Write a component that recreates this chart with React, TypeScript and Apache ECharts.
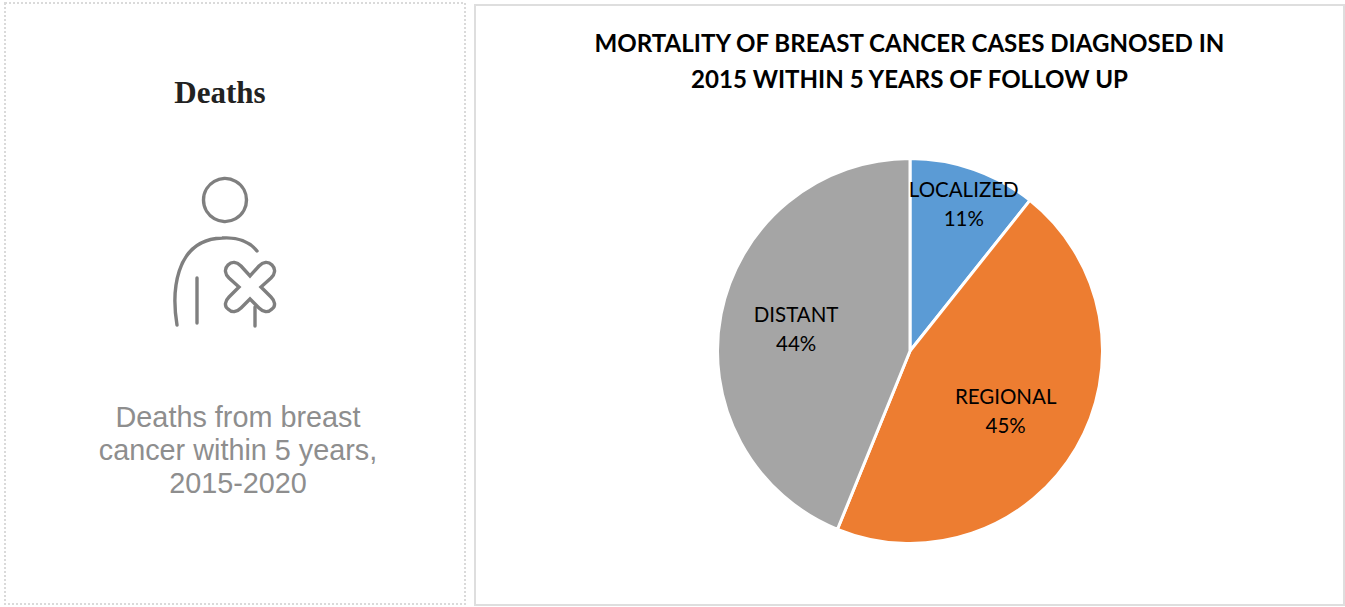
import React, { useEffect, useRef } from "react";
import * as echarts from "echarts";

const categories = ["LOCALIZED", "REGIONAL", "DISTANT"];
const shares = [10.7, 45.45, 43.85];
const colors = ["#5B9BD5", "#ED7D31", "#A5A5A5"];
const labelOffsets = [[21, -54], [10, 9], [-16.5, -3]];
const titleLines = "MORTALITY OF BREAST CANCER CASES DIAGNOSED IN\n2015 WITHIN 5 YEARS OF FOLLOW UP";
const sideHeading = "Deaths";
const sideCaption = ["Deaths from breast", "cancer within 5 years,", "2015-2020"];

const crossPath =
  "M229 266 C233 262 238 263 242 267 L251 277 L260 267 C264 263 269 262 273 266 C277 270 276 275 272 279 L262 288 L272 298 C276 302 277 307 273 310 C269 314 264 313 260 309 L251 300 L242 309 C238 313 233 314 229 310 C225 307 226 302 230 298 L240 288 L230 279 C226 275 225 270 229 266 Z";
const shoulderPath = "M177 325 C172 295 173 240 222 238 C236 237 249 241 257 251";

export default function App() {
  const ref = useRef<HTMLDivElement>(null);
  useEffect(() => {
    document.body.style.margin = "0";
    echarts.graphic.registerShape("deathCross", echarts.graphic.extendPath(crossPath, {}) as any);
    echarts.graphic.registerShape("deathShoulder", echarts.graphic.extendPath(shoulderPath, {}) as any);
    const chart = echarts.init(ref.current!, undefined, { renderer: "svg" });
    const iconStroke = { fill: "none", stroke: "#7F7F7F", lineWidth: 3.4, lineCap: "round" };
    chart.setOption({
      animation: false,
      backgroundColor: "#fff",
      title: {
        text: titleLines,
        left: 904.5,
        top: 19,
        textAlign: "center",
        textStyle: { fontFamily: "Lato", fontWeight: "bold", fontSize: 24.1, lineHeight: 36, color: "#000" },
      },
      graphic: [
        { type: "rect", shape: { x: 5, y: 3, width: 460, height: 601 }, style: { fill: "none", stroke: "#DADADA", lineWidth: 2, lineDash: [2, 2] } },
        { type: "rect", shape: { x: 475, y: 5, width: 869, height: 600 }, style: { fill: "none", stroke: "#DEDEDE", lineWidth: 2 } },
        { type: "text", x: 220, y: 92, style: { text: sideHeading, fontFamily: "Liberation Serif", fontWeight: "bold", fontSize: 31, fill: "#222", align: "center", verticalAlign: "middle" } },
        { type: "circle", shape: { cx: 225, cy: 200, r: 21.5 }, style: iconStroke },
        { type: "deathShoulder", style: iconStroke },
        { type: "line", shape: { x1: 197, y1: 278, x2: 197, y2: 323 }, style: iconStroke },
        { type: "deathCross", x: -1, y: -1, style: iconStroke },
        { type: "line", shape: { x1: 255, y1: 307, x2: 255, y2: 326 }, style: iconStroke },
        ...sideCaption.map((t, i) => ({
          type: "text", x: 238, y: 417 + i * 33,
          style: { text: t, fontFamily: "Liberation Sans", fontSize: 28.8, fill: "#8E8E8E", align: "center", verticalAlign: "middle" },
        })),
      ],
      series: [
        {
          type: "pie",
          center: [910, 351],
          radius: [0, 192.5],
          startAngle: 90,
          clockwise: true,
          data: categories.map((name, i) => ({
            name,
            value: shares[i],
            itemStyle: { color: colors[i] },
            label: { offset: labelOffsets[i] },
          })),
          itemStyle: { borderColor: "#fff", borderWidth: 3 },
          label: {
            show: true,
            position: "inner",
            formatter: (p: any) => `${p.name}\n${Math.round(p.value)}%`,
            fontFamily: "Lato",
            fontSize: 20.5,
            lineHeight: 29,
            color: "#000",
          },
          labelLine: { show: false },
          emphasis: { disabled: true },
        },
      ],
    });
    return () => chart.dispose();
  }, []);
  return <div ref={ref} style={{ width: 1345, height: 607 }} />;
}
